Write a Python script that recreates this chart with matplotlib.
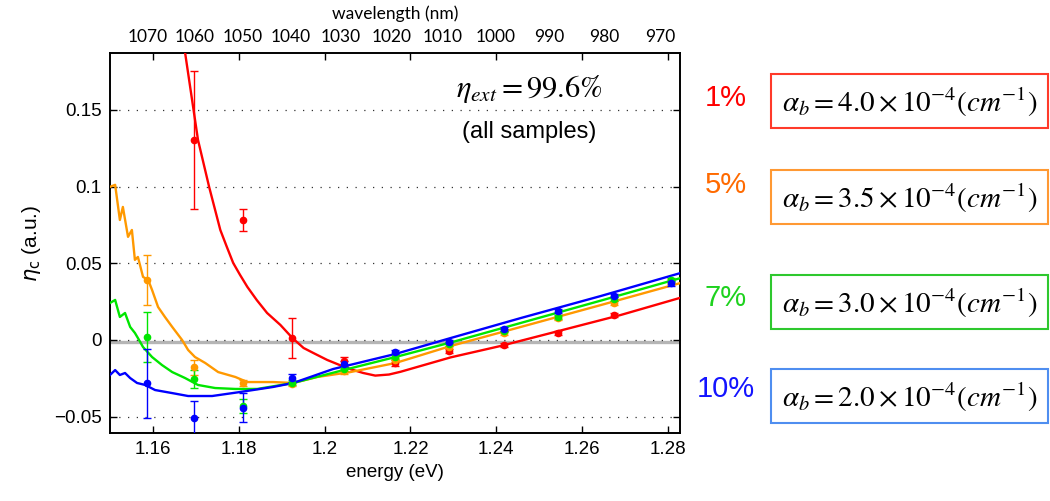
import numpy as np
import matplotlib
matplotlib.use('Agg')
import matplotlib.pyplot as plt
from matplotlib.patches import Rectangle

plt.rcParams['font.family'] = ['Liberation Sans', 'DejaVu Sans']

# ---- simulated curves (energy eV, eta_c) ----
red_E = [1.1675, 1.1705, 1.1731, 1.1757, 1.1772, 1.1787, 1.1803, 1.1820, 1.1842, 1.1866,
         1.1897, 1.1925, 1.1951, 1.1974, 1.2006, 1.2035, 1.2060, 1.2090, 1.2118, 1.2150,
         1.2177, 1.2294, 1.2410, 1.2550, 1.2690, 1.2830]
red_y = [0.1871, 0.1304, 0.0997, 0.0717, 0.0608, 0.0502, 0.0424, 0.0346, 0.0260, 0.0176,
         0.0098, 0.0013, -0.0052, -0.0085, -0.0130, -0.0163, -0.0190, -0.0215, -0.0232, -0.0225,
         -0.0207, -0.0113, -0.0039, 0.0062, 0.0163, 0.0276]

orange_E = [1.1500, 1.1512, 1.1523, 1.1530, 1.1542, 1.1551, 1.1558, 1.1565, 1.1577,
            1.1589, 1.1598, 1.1612, 1.1628, 1.1645, 1.1668, 1.1682, 1.1698, 1.1722,
            1.1752, 1.1792, 1.1820, 1.1880, 1.1927, 1.1983, 1.2060, 1.2165, 1.2294,
            1.2457, 1.2644, 1.2830]
orange_y = [0.0998, 0.1011, 0.0782, 0.0867, 0.0672, 0.0717, 0.0522, 0.0541, 0.0411,
            0.0391, 0.0326, 0.0215, 0.0150, 0.0085, 0.0000, -0.0065, -0.0111, -0.0150,
            -0.0209, -0.0241, -0.0274, -0.0274, -0.0280, -0.0241, -0.0209, -0.0150, -0.0039,
            0.0085, 0.0228, 0.0372]

green_E = [1.1500, 1.1512, 1.1523, 1.1535, 1.1547, 1.1558, 1.1565, 1.1577, 1.1598,
           1.1621, 1.1645, 1.1675, 1.1705, 1.1745, 1.1792, 1.1843, 1.1927, 1.2044,
           1.2165, 1.2294, 1.2457, 1.2644, 1.2830]
green_y = [0.0241, 0.0261, 0.0150, 0.0176, 0.0085, 0.0046, 0.0013, -0.0046, -0.0111,
           -0.0163, -0.0209, -0.0248, -0.0293, -0.0313, -0.0319, -0.0319, -0.0280, -0.0196,
           -0.0111, -0.0016, 0.0111, 0.0257, 0.0404]

blue_E = [1.1500, 1.1512, 1.1523, 1.1535, 1.1547, 1.1563, 1.1582, 1.1605, 1.1645,
          1.1682, 1.1738, 1.1803, 1.1880, 1.1927, 1.2020, 1.2165, 1.2294, 1.2457,
          1.2644, 1.2830]
blue_y = [-0.0228, -0.0196, -0.0228, -0.0215, -0.0248, -0.0280, -0.0293, -0.0326, -0.0346,
          -0.0365, -0.0365, -0.0339, -0.0306, -0.0280, -0.0189, -0.0091, 0.0013, 0.0143,
          0.0287, 0.0437]

# ---- measured points ----
E_pts = [1.1586, 1.1696, 1.1810, 1.1925, 1.2045, 1.2165, 1.2289, 1.2417, 1.2543, 1.2674, 1.2807]

red_pts = [0.1304, 0.0780, 0.0011, -0.0140, -0.0152, -0.0072, -0.0033, 0.0044, 0.0163]
red_err = [0.0450, 0.0072, 0.0130, 0.0030, 0.0020, 0.0015, 0.0012, 0.0012, 0.0015]

orange_pts = [0.0390, -0.0178, -0.0278, -0.0287, -0.0205, -0.0130, -0.0044, 0.0044, 0.0143, 0.0240, 0.0380]
orange_err = [0.0164, 0.0050, 0.0020, 0.0015, 0.0015, 0.0015, 0.0015, 0.0012, 0.0012, 0.0015, 0.0015]

green_pts = [0.0022, -0.0254, -0.0428, -0.0278, -0.0188, -0.0109, -0.0028, 0.0061, 0.0152, 0.0267, 0.0391]
green_err = [0.0163, 0.0060, 0.0045, 0.0015, 0.0015, 0.0015, 0.0012, 0.0012, 0.0012, 0.0015, 0.0015]

blue_pts = [-0.0282, -0.0510, -0.0440, -0.0246, -0.0156, -0.0079, -0.0010, 0.0072, 0.0189, 0.0289, 0.0370]
blue_err = [0.0225, 0.0110, 0.0095, 0.0027, 0.0020, 0.0015, 0.0012, 0.0012, 0.0010, 0.0012, 0.0015]

wl_ticks = [1070, 1060, 1050, 1040, 1030, 1020, 1010, 1000, 990, 980, 970]

pct_labels = ['1%', '5%', '7%', '10%']
alpha_vals = ['4.0', '3.5', '3.0', '2.0']

W, H = 1050, 501
fig = plt.figure(figsize=(W / 100, H / 100), dpi=100)
ax = fig.add_axes([110 / W, 1 - 433 / H, 570 / W, 380 / H])

ax.axhline(-0.0012, color='#b5b5b5', lw=2.4, zorder=1)

ebkw = dict(fmt='o', ms=4.5, capsize=2.6, elinewidth=1.0, capthick=1.0, zorder=3)
ax.errorbar(E_pts[1:10], red_pts, yerr=red_err, color='#ff0000', **ebkw)
ax.plot(red_E, red_y, color='#ff0000', lw=1.7, zorder=3)
ax.errorbar(E_pts, orange_pts, yerr=orange_err, color='#ff9900', **ebkw)
ax.plot(orange_E, orange_y, color='#ff9900', lw=1.7, zorder=3)
ax.errorbar(E_pts, green_pts, yerr=green_err, color='#00e600', **ebkw)
ax.plot(green_E, green_y, color='#00e600', lw=1.7, zorder=3)
ax.errorbar(E_pts, blue_pts, yerr=blue_err, color='#0000ff', **ebkw)
ax.plot(blue_E, blue_y, color='#0000ff', lw=1.7, zorder=3)

ax.set_xlim(1.15, 1.2828)
ax.set_ylim(-0.0606, 0.187)
ax.set_xticks([1.16, 1.18, 1.2, 1.22, 1.24, 1.26, 1.28])
ax.set_xticklabels(['1.16', '1.18', '1.2', '1.22', '1.24', '1.26', '1.28'])
ax.set_yticks([-0.05, 0, 0.05, 0.1, 0.15])
ax.set_yticklabels(['\u22120.05', '0', '0.05', '0.1', '0.15'])
ax.tick_params(direction='in', top=True, right=True, length=5, width=1,
               labelsize=13.5, pad=6)
ax.yaxis.grid(True, linestyle=(0, (1, 6)), color='#333333', lw=0.9)
for s in ax.spines.values():
    s.set_linewidth(1.4)

ax.set_xlabel('energy (eV)', fontsize=13.5, labelpad=4)
ax.set_ylabel(r'$\eta_\mathrm{c}$ (a.u.)', fontsize=15, labelpad=8)

# top wavelength axis
secax = ax.secondary_xaxis('top', functions=(lambda e: 1239.84 / np.asarray(e, float),
                                             lambda l: 1239.84 / np.asarray(l, float)))
secax.set_xticks(wl_ticks)
secax.set_xticklabels([str(w) for w in wl_ticks])
secax.tick_params(length=0, labelsize=12.5, pad=6)
for lab in secax.get_xticklabels():
    lab.set_fontfamily('Lato')
secax.set_xlabel('wavelength (nm)', fontsize=12.5, labelpad=7, family='Lato')
secax.spines['top'].set_visible(False)

ax.text(0.735, 0.905, r'$\eta_{ext} = 99.6\%$', transform=ax.transAxes,
        ha='center', va='center', fontsize=22, math_fontfamily='stix')
ax.text(0.735, 0.793, '(all samples)', transform=ax.transAxes,
        ha='center', va='center', fontsize=17)

# right-hand annotations
pct_colors = ['#ff0000', '#ff6a00', '#1ed21e', '#1414ff']
box_colors = ['#ff3a2a', '#ff9933', '#2ec82e', '#4f8ef0']
pct_y = [98, 185, 298, 389]
box_top = [74, 170, 275, 369]
for lab, av, pc, bc, py, bt in zip(pct_labels, alpha_vals, pct_colors, box_colors, pct_y, box_top):
    fig.text(726 / W, 1 - py / H, lab, color=pc, fontsize=21, ha='center', va='center')
    fig.add_artist(Rectangle((771 / W, 1 - (bt + 54) / H), 277 / W, 54 / H,
                             transform=fig.transFigure, fill=False, edgecolor=bc, lw=1.5))
    fig.text(910 / W, 1 - (bt + 28) / H,
             r'$\alpha_b = %s\times10^{-4}(cm^{-1})$' % av,
             fontsize=21, ha='center', va='center', math_fontfamily='stix')

fig.savefig('out.png', dpi=100)
